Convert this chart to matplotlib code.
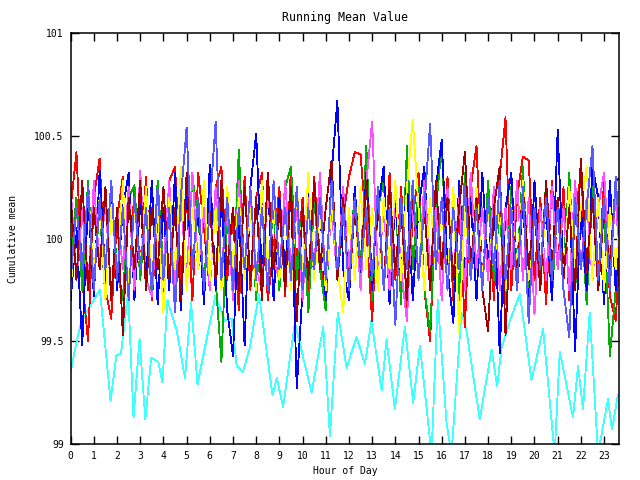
import matplotlib.pyplot as plt
import numpy as np

# sample times: every 15 minutes
hours = np.arange(96) * 0.25

red = [100.15, 100.42, 99.80, 99.50, 100.20, 100.39, 99.75, 99.61, 100.10, 100.30, 99.70, 100.25,
       99.85, 100.30, 99.70, 100.10, 99.65, 100.28, 100.35, 99.80, 100.20, 99.70, 100.32, 100.05,
       99.75, 100.25, 100.35, 99.80, 100.10, 99.65, 100.30, 99.75, 100.20, 100.32, 99.70, 99.95,
       100.25, 99.72, 100.35, 99.85, 100.20, 99.70, 100.30, 99.90, 99.68, 100.25, 99.80, 100.10,
       100.30, 100.42, 100.41, 100.05, 99.60, 100.20, 99.75, 100.32, 99.80, 100.25, 99.65, 100.10,
       100.32, 99.75, 99.50, 100.20, 99.85, 100.30, 99.70, 100.15, 99.57, 100.25, 100.45, 99.80,
       100.20, 99.70, 100.30, 100.59, 99.75, 100.20, 100.40, 100.38, 99.80, 100.20, 99.68, 100.28,
       99.85, 100.25, 99.70, 100.10, 100.32, 99.75, 100.20, 99.80, 100.28, 99.72, 99.60, 100.10]

green = [99.90, 100.20, 99.75, 100.28, 99.80, 100.15, 99.70, 100.25, 99.85, 99.70, 100.20, 100.26,
         99.80, 100.15, 99.72, 100.28, 99.85, 100.20, 99.70, 100.25, 99.80, 100.30, 100.10, 99.75,
         100.28, 99.80, 99.40, 100.10, 99.75, 100.43, 99.80, 100.20, 99.70, 100.28, 99.85, 100.15,
         99.75, 100.25, 100.35, 99.80, 100.15, 99.64, 100.20, 99.85, 99.65, 100.28, 99.80, 100.15,
         99.75, 100.25, 99.85, 100.45, 99.70, 100.15, 100.28, 99.80, 100.20, 99.68, 100.45, 99.85,
         100.25, 99.75, 99.55, 100.15, 100.45, 99.80, 100.20, 99.70, 100.32, 99.85, 100.20, 99.75,
         100.28, 99.80, 100.15, 99.68, 100.25, 99.85, 100.35, 99.75, 100.15, 99.80, 100.28, 99.70,
         100.20, 99.85, 100.32, 99.75, 100.15, 99.68, 100.28, 99.80, 100.15, 99.43, 99.75, 100.30]

blue = [99.70, 100.05, 99.48, 100.20, 99.72, 100.33, 99.80, 100.28, 99.75, 100.15, 100.32, 99.70,
        100.20, 99.80, 100.28, 99.68, 100.15, 99.75, 100.32, 99.65, 100.25, 99.85, 100.15, 99.68,
        100.36, 99.75, 100.20, 99.65, 99.43, 100.15, 99.48, 100.25, 100.51, 99.80, 100.28, 99.70,
        100.20, 99.85, 100.25, 99.27, 99.75, 100.28, 99.80, 100.15, 99.70, 100.32, 100.67, 99.85,
        99.70, 100.25, 99.80, 100.32, 99.75, 100.15, 100.35, 99.68, 100.20, 99.80, 100.28, 99.70,
        100.15, 100.35, 99.75, 100.25, 100.48, 99.85, 99.59, 100.28, 99.80, 100.20, 99.70, 100.32,
        99.85, 100.25, 99.44, 100.15, 100.32, 99.75, 100.20, 99.65, 100.28, 99.85, 100.15, 99.70,
        100.53, 99.80, 100.25, 99.45, 100.15, 99.75, 100.35, 100.20, 99.68, 100.28, 99.75, 100.20]

magenta = [100.25, 99.80, 100.15, 99.75, 100.28, 99.85, 100.20, 99.70, 100.15, 99.85, 100.25, 99.75,
           100.33, 99.80, 99.72, 100.15, 99.85, 100.28, 99.75, 100.20, 99.80, 100.32, 99.85, 100.15,
           99.75, 100.25, 99.85, 100.15, 99.70, 100.28, 99.80, 100.20, 99.85, 99.75, 100.25, 99.90,
           99.80, 100.28, 99.85, 100.15, 99.70, 100.20, 99.85, 100.32, 99.75, 100.15, 99.80, 100.25,
           99.85, 100.20, 99.75, 100.28, 100.57, 99.80, 100.15, 99.75, 100.25, 99.85, 99.60, 100.20,
           99.80, 100.28, 99.85, 100.15, 99.70, 100.25, 99.80, 100.20, 99.75, 100.32, 99.85, 100.15,
           99.80, 100.25, 99.75, 100.15, 99.85, 100.28, 99.80, 100.20, 99.63, 100.15, 99.80, 100.25,
           99.85, 100.15, 99.75, 100.28, 99.85, 100.20, 99.80, 100.15, 100.32, 99.85, 100.20, 99.75]

yellow = [99.75, 100.15, 99.85, 100.25, 99.80, 100.20, 99.70, 100.15, 99.85, 100.28, 99.75, 100.15,
          99.85, 100.25, 99.80, 100.15, 99.64, 100.20, 99.85, 100.35, 99.75, 100.15, 99.85, 100.28,
          99.80, 100.15, 99.75, 100.25, 99.85, 100.20, 99.80, 100.15, 99.75, 100.28, 99.85, 100.20,
          99.80, 100.15, 99.75, 100.25, 99.85, 100.32, 99.80, 100.15, 99.75, 100.20, 99.85, 99.64,
          100.15, 99.80, 100.25, 99.85, 100.15, 99.75, 100.20, 99.85, 100.28, 99.80, 100.25, 100.58,
          100.15, 99.75, 100.20, 99.85, 100.15, 99.80, 100.25, 99.54, 100.15, 99.85, 100.25, 99.80,
          100.15, 99.85, 100.20, 99.75, 100.15, 99.85, 100.28, 99.80, 100.15, 99.75, 100.20, 99.85,
          100.15, 99.80, 100.25, 99.85, 100.15, 100.35, 99.80, 100.20, 99.75, 100.15, 99.85, 100.20]

darkred = [100.20, 99.80, 100.28, 99.75, 100.15, 99.85, 100.25, 99.70, 100.15, 99.53, 100.20, 99.85,
           100.28, 99.75, 100.15, 99.85, 100.25, 99.80, 100.15, 99.70, 100.32, 99.85, 100.20, 99.75,
           100.15, 99.80, 100.28, 99.85, 100.15, 99.75, 100.25, 99.80, 100.20, 99.70, 100.32, 99.85,
           100.15, 99.75, 100.25, 99.60, 100.15, 99.80, 100.28, 99.85, 100.15, 100.38, 99.80, 100.20,
           99.75, 100.15, 99.85, 100.28, 99.80, 100.20, 99.75, 100.25, 99.85, 100.15, 99.70, 100.25,
           99.80, 100.15, 99.75, 100.28, 99.85, 100.20, 99.80, 100.15, 100.42, 99.85, 100.20, 99.75,
           99.55, 100.15, 100.35, 99.53, 100.15, 99.80, 100.25, 99.85, 100.15, 99.75, 100.28, 99.85,
           100.20, 99.80, 100.15, 99.75, 100.39, 99.85, 100.20, 99.75, 100.15, 99.85, 100.28, 100.30]

slate = [99.80, 100.15, 99.85, 100.25, 99.75, 100.20, 99.85, 100.28, 99.80, 100.15, 99.70, 100.20,
         99.85, 100.15, 99.75, 100.25, 99.80, 100.15, 99.64, 100.20, 100.54, 99.85, 100.20, 99.75,
         100.15, 100.57, 99.80, 100.20, 99.75, 100.15, 99.85, 100.25, 99.80, 100.15, 99.75, 100.28,
         99.85, 100.15, 99.80, 100.25, 99.75, 100.15, 99.85, 100.20, 99.80, 100.28, 99.85, 100.15,
         99.75, 100.20, 99.85, 100.15, 99.80, 100.25, 99.75, 100.15, 99.58, 100.20, 99.85, 100.28,
         99.80, 100.15, 100.56, 99.85, 100.20, 99.75, 100.15, 99.85, 100.25, 99.80, 100.15, 99.75,
         100.20, 99.85, 100.28, 99.80, 100.15, 99.75, 100.25, 99.59, 100.15, 99.85, 100.20, 99.80,
         100.15, 99.75, 99.52, 100.20, 99.85, 100.15, 100.45, 99.80, 100.20, 99.75, 100.30, 99.85]

# the low cyan series, traced at its turning points
cyan_h = [0.00, 0.24, 0.47, 1.26, 1.72, 1.97, 2.17, 2.48, 2.71, 2.97, 3.22, 3.47, 3.78, 3.96,
          4.17, 4.58, 4.93, 5.19, 5.47, 5.86, 6.24, 6.65, 6.94, 7.16, 7.43, 7.73, 8.12, 8.70,
          8.89, 9.16, 9.67, 10.39, 10.89, 11.18, 11.52, 11.90, 12.04, 12.33, 12.69, 12.97,
          13.41, 13.62, 13.98, 14.41, 14.77, 15.06, 15.56, 15.83, 16.21, 16.42, 16.85, 17.07,
          17.64, 18.15, 18.39, 18.58, 18.94, 19.37, 19.87, 20.37, 20.87, 21.09, 21.66, 21.88,
          22.09, 22.38, 22.74, 23.17, 23.34, 23.60]
cyan = [99.35, 99.49, 99.60, 99.75, 99.21, 99.43, 99.44, 99.74, 99.13, 99.51, 99.12, 99.42, 99.40, 99.30,
        99.70, 99.55, 99.32, 99.69, 99.29, 99.51, 99.72, 99.60, 99.61, 99.38, 99.35, 99.47, 99.73, 99.24,
        99.32, 99.18, 99.59, 99.25, 99.57, 99.04, 99.64, 99.37, 99.42, 99.52, 99.39, 99.60,
        99.26, 99.51, 99.17, 99.57, 99.20, 99.48, 98.95, 99.70, 99.10, 98.95, 99.64, 99.55,
        99.12, 99.46, 99.28, 99.47, 99.60, 99.73, 99.31, 99.56, 98.95, 99.45, 99.13, 99.38,
        99.17, 99.64, 98.95, 99.22, 99.07, 99.24]

hour_ticks = list(range(24))
mean_ticks = [99, 99.5, 100, 100.5, 101]
mean_labels = ["99", "99.5", "100", "100.5", "101"]

plt.rcParams["font.family"] = "DejaVu Sans Mono"
plt.rcParams["font.size"] = 7

fig = plt.figure(figsize=(6.4, 4.8), dpi=100)
ax = fig.add_axes([0.1104, 0.075, 0.857, 0.856])

lines = [(cyan_h, cyan, "#40ffff"),
         (hours, red, "#ff0000"),
         (hours, green, "#00b000"),
         (hours, blue, "#0000ff"),
         (hours, magenta, "#ff50ff"),
         (hours, yellow, "#ffff00"),
         (hours, darkred, "#a00000"),
         (hours, slate, "#5858ff")]
for x, y, c in lines:
    ax.plot(x, y, color=c, lw=0.6, antialiased=False)

ax.set_xlim(0, 23.65)
ax.set_ylim(99, 101)
ax.set_xticks(hour_ticks)
ax.set_yticks(mean_ticks)
ax.set_yticklabels(mean_labels)
ax.tick_params(direction="in", length=6, width=1, top=True, right=True, pad=5)
for s in ax.spines.values():
    s.set_linewidth(1.1)

ax.set_title("Running Mean Value", pad=9)
ax.set_xlabel("Hour of Day", labelpad=4)
ax.set_ylabel("Cumulative mean", labelpad=12)

fig.savefig("out.png", dpi=100)
